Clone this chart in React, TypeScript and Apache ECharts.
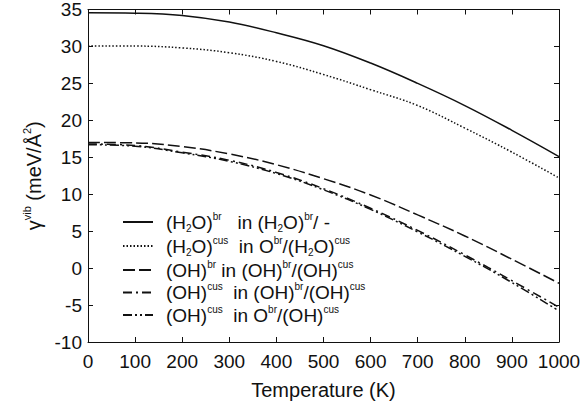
import React, { useEffect, useRef } from "react";
import * as echarts from "echarts";

const temperatures = [0, 100, 200, 300, 400, 500, 600, 700, 800, 900, 1000];
const h2oBrInH2oBr = [34.55, 34.5, 34.2, 33.3, 31.85, 30.1, 27.75, 25.0, 22.0, 18.65, 15.1];
const h2oCusInObrH2oCus = [30.05, 30.05, 29.8, 29.15, 27.97, 26.2, 24.15, 22.0, 18.95, 15.7, 12.2];
const ohBrInOhBrOhCus = [17.0, 16.95, 16.45, 15.45, 14.0, 12.1, 9.9, 7.2, 4.35, 1.2, -2.05];
const ohCusInOhBrOhCus = [16.8, 16.6, 15.7, 14.6, 12.95, 10.75, 8.1, 5.1, 1.8, -1.7, -5.3];
const ohCusInObrOhCus = [16.7, 16.5, 15.6, 14.45, 12.8, 10.6, 7.95, 4.9, 1.6, -1.95, -5.8];

const seriesNames = ["s1", "s2", "s3", "s4", "s5"];
const legendLabels: Record<string, string> = {
  s1: "{t|(H}{sub|2}{t|O)}{sup|br}{t|   in (H}{sub|2}{t|O)}{sup|br}{t|/ -}",
  s2: "{t|(H}{sub|2}{t|O)}{sup|cus}{t|  in O}{sup|br}{t|/(H}{sub|2}{t|O)}{sup|cus}",
  s3: "{t|(OH)}{sup|br}{t| in (OH)}{sup|br}{t|/(OH)}{sup|cus}",
  s4: "{t|(OH)}{sup|cus}{t|  in (OH)}{sup|br}{t|/(OH)}{sup|cus}",
  s5: "{t|(OH)}{sup|cus}{t|  in O}{sup|br}{t|/(OH)}{sup|cus}",
};
const xTickMin = 0;
const xTickMax = 1000;
const yTickMin = -10;
const yTickMax = 35;

const FONT = "Liberation Sans";
const INK = "#111";

export default function App() {
  const ref = useRef<HTMLDivElement>(null);
  useEffect(() => {
    document.body.style.margin = "0";
    if (!ref.current) return;
    const chart = echarts.init(ref.current, undefined, { renderer: "svg" });
    const seriesData = [
      h2oBrInH2oBr,
      h2oCusInObrH2oCus,
      ohBrInOhBrOhCus,
      ohCusInOhBrOhCus,
      ohCusInObrOhCus,
    ];
    const dashes: any[] = [
      "solid",
      [1.5, 2],
      [12, 4],
      [9, 4, 2, 4],
      [9, 3, 2, 3, 2, 3],
    ];
    const rich = {
      t: { fontSize: 19, fontFamily: FONT, color: INK, lineHeight: 22 },
      sup: { fontSize: 10, fontFamily: FONT, color: INK, verticalAlign: "top", lineHeight: 11 },
      sub: { fontSize: 10, fontFamily: FONT, color: INK, verticalAlign: "bottom", lineHeight: 9 },
    };
    const axisLine = { show: true, onZero: false, lineStyle: { color: INK, width: 1 } };
    const tick = { show: true, inside: true, length: 5, lineStyle: { color: INK } };
    chart.setOption({
      animation: false,
      backgroundColor: "#fff",
      grid: { left: 88, right: 28, top: 9, bottom: 69, containLabel: false },
      legend: {
        orient: "vertical",
        left: 117,
        top: 206,
        itemWidth: 30,
        itemHeight: 14,
        itemGap: 2,
        data: seriesNames,
        formatter: (name: string) => legendLabels[name],
        itemStyle: { opacity: 0 },
        textStyle: { color: INK, fontFamily: FONT, fontSize: 19, padding: [0, 0, 0, 8], rich },
        selectedMode: false,
      },
      xAxis: [
        {
          type: "value",
          min: xTickMin,
          max: xTickMax,
          interval: 100,
          position: "bottom",
          name: "Temperature (K)",
          nameLocation: "middle",
          nameGap: 38,
          nameTextStyle: { fontSize: 20, fontFamily: FONT, color: INK },
          axisLine,
          axisTick: tick,
          axisLabel: {
            fontSize: 19,
            fontFamily: FONT,
            color: INK,
            margin: 10,
            formatter: (v: number) => String(v),
          },
          splitLine: { show: false },
        },
        {
          type: "value",
          min: xTickMin,
          max: xTickMax,
          interval: 100,
          position: "top",
          axisLine,
          axisTick: tick,
          axisLabel: { show: false },
          splitLine: { show: false },
        },
      ],
      yAxis: [
        {
          type: "value",
          min: yTickMin,
          max: yTickMax,
          interval: 5,
          position: "left",
          name: "{g|γ}{sup|vib}{t| (meV/Å}{sup|2}{t|)}",
          nameLocation: "middle",
          nameGap: 34,
          nameTextStyle: {
            fontFamily: FONT,
            color: INK,
            rich: {
              g: { fontSize: 20, fontFamily: FONT, color: INK, lineHeight: 24 },
              t: { fontSize: 20, fontFamily: FONT, color: INK, lineHeight: 24 },
              sup: { fontSize: 11, fontFamily: FONT, color: INK, verticalAlign: "top", lineHeight: 12 },
            },
          },
          axisLine,
          axisTick: tick,
          axisLabel: { fontSize: 19, fontFamily: FONT, color: INK, margin: 6 },
          splitLine: { show: false },
        },
        {
          type: "value",
          min: yTickMin,
          max: yTickMax,
          interval: 5,
          position: "right",
          axisLine,
          axisTick: tick,
          axisLabel: { show: false },
          splitLine: { show: false },
        },
      ],
      series: seriesNames.map((name, i) => ({
        name,
        type: "line",
        xAxisIndex: 0,
        yAxisIndex: 0,
        data: temperatures.map((t, j) => [t, seriesData[i][j]]),
        symbol: "none",
        smooth: 0.4,
        color: INK,
        lineStyle: { color: INK, width: 1.5, type: dashes[i] },
      })),
    });
    return () => chart.dispose();
  }, []);
  return <div ref={ref} style={{ width: 587, height: 411 }} />;
}
